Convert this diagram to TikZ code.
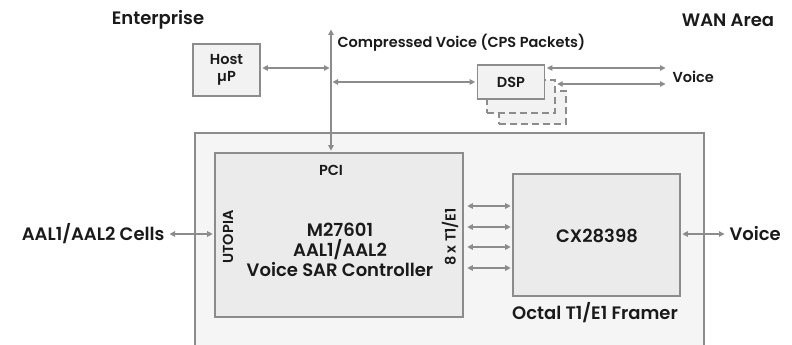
\documentclass[tikz,border=0pt]{standalone}
\usepackage{fontspec}
\setmainfont{Poppins}[UprightFont=* SemiBold]
\usetikzlibrary{arrows.meta,positioning}
\definecolor{sarInk}{HTML}{1A1A1A}
\definecolor{sarLine}{HTML}{8C8C8C}
\definecolor{sarFill}{HTML}{EBEBEB}
\definecolor{sarLight}{HTML}{F2F2F2}
\definecolor{sarBack}{HTML}{F5F5F5}
\tikzset{
  every picture/.style={font=\fontsize{14.5}{17}\selectfont, text=sarInk},
  sar box/.style={draw=sarLine, line width=1.6pt, fill=sarFill, align=center,
    inner sep=0pt},
  sar small/.style={sar box, fill=sarLight},
  sar shadow/.style={draw=sarLine, line width=1.4pt, dash pattern=on 7pt off 4pt,
    fill=sarLight},
  sar arrow/.style={{Triangle[length=5.5pt,width=5.5pt]}-{Triangle[length=5.5pt,width=5.5pt]},
    draw=sarLine, line width=1.1pt, shorten >=1.5pt, shorten <=1.5pt},
  sar big/.style={font=\fontsize{18}{20}\selectfont, align=center}
}

\begin{document}
\begin{tikzpicture}[x=1pt,y=-1pt]
  \clip (0,0) rectangle (792,345);
  \fill[white] (0,0) rectangle (792,345);
  \draw[draw=sarLine, line width=1.6pt, fill=sarBack] (195,133) rectangle (704,400);

  \node[sar box, minimum width=248, minimum height=164] (sar) at (339,235) {};
  \node[sar box, minimum width=167, minimum height=122] (framer) at (596.5,235) {};
  \node[sar small, minimum width=67, minimum height=52] (host) at (226.5,70) {Host\\µP};
  \node[sar shadow, minimum width=67, minimum height=33] (shadowB) at (532.5,107.5) {};
  \node[sar shadow, minimum width=68, minimum height=33] (shadowA) at (521,96.5) {};
  \node[sar small, minimum width=67, minimum height=34] (dsp) at (511,82) {DSP};

  \node[sar big] (sartext) at (340,250) {M27601\\AAL1/AAL2\\Voice SAR Controller};
  \node (pci) at (331,170) {PCI};
  \node[rotate=90] (utopia) at (228,237) {UTOPIA};
  \node[rotate=90] (lines) at (450,237) {8 x T1/E1};
  \node[sar big] (cxtext) at (597,236) {CX28398};
  \node[sar big] (framertext) at (595,313) {Octal T1/E1 Framer};

  \node[sar big] (enterprise) at (158,20) {Enterprise};
  \node[sar big] (wan) at (728,20) {WAN Area};
  \node[anchor=west] (cps) at (334,43) {Compressed Voice (CPS Packets)};
  \node[anchor=west] (voiceT) at (669,77) {Voice};
  \node[sar big, anchor=east] (cells) at (168,234) {AAL1/AAL2 Cells};
  \node[sar big, anchor=west] (voiceR) at (726,234) {Voice};

  \coordinate (busTop) at (331,28);
  \coordinate (voiceA) at (667,68);
  \coordinate (voiceB) at (667,84);

  % bus and taps
  \draw[sar arrow] (busTop) -- (busTop |- sar.north);
  \draw[sar arrow] (host.east |- 0,68) -- (busTop |- 0,68);
  \draw[sar arrow] (busTop |- dsp.west) -- (dsp.west);
  \draw[sar arrow] (dsp.east |- voiceA) -- (voiceA);
  \draw[sar arrow] (shadowA.east |- voiceB) -- (voiceB);

  % T1/E1 lines
  \foreach \yy in {206,227,247,268}
    \draw[sar arrow] ([xshift=2pt]sar.east |- 0,\yy) -- (framer.west |- 0,\yy);

  \draw[sar arrow] (cells.east) -- (sar.west |- cells.east);
  \draw[sar arrow] (framer.east |- voiceR.west) -- (voiceR.west);
\end{tikzpicture}
\end{document}
